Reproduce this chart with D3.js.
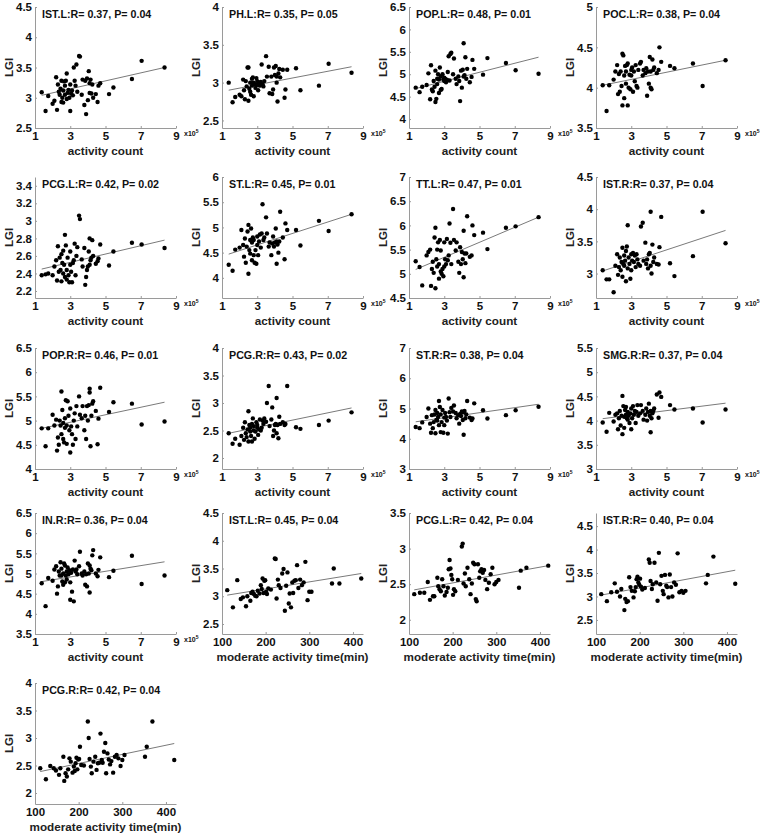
<!DOCTYPE html>
<html>
<head>
<meta charset="utf-8">
<script src="https://cdn.jsdelivr.net/npm/d3@7"></script>
<style>
    body { margin: 0; background: #fff; }
    text { font-family: "Liberation Sans", Arial, sans-serif; font-weight: bold; }
</style>
</head>
<body>
<svg id="chart" width="767" height="837"></svg>
<script>
// shared x values (same subjects in every panel)
const activityCount = [1.38, 1.6, 1.75, 2.0, 2.1, 2.2, 2.25, 2.3, 2.35, 2.4,
    2.45, 2.5, 2.5, 2.55, 2.6, 2.6, 2.65, 2.7, 2.7, 2.75,
    2.8, 2.8, 2.85, 2.9, 2.95, 3.0, 3.0, 3.05, 3.1, 3.15,
    3.2, 3.25, 3.3, 3.35, 3.4, 3.5, 3.55, 3.65, 3.7, 3.8,
    3.85, 3.9, 3.95, 4.0, 4.05, 4.1, 4.1, 4.15, 4.2, 4.25,
    4.3, 4.45, 4.55, 4.6, 4.7, 5.2, 5.45, 6.5, 7.05, 8.35];

const moderateTime = [112, 125, 135, 143, 148, 155, 158, 165,
    167, 170, 173, 176, 179, 182, 186, 189,
    191, 193, 195, 197, 199, 201, 203, 206,
    212, 221, 223, 225, 228, 230, 234, 238,
    241, 244, 247, 250, 253, 255, 258, 261,
    263, 266, 269, 272, 275, 279, 283, 287,
    291, 296, 300, 305, 352, 356, 369, 419];

const activityTicks = [1, 3, 5, 7, 9];
const timeTicks = [100, 200, 300, 400];

// LGI values, one array per panel
const istL_act = [3.09, 2.78, 3.03, 2.9, 2.95, 3.34, 2.8, 3.22, 3.1, 3.05,
    3.15, 2.93, 3.28, 3.0, 3.12, 2.92, 3.27, 3.05, 3.2, 3.28,
    2.98, 3.4, 3.08, 3.13, 3.0, 3.22, 2.78, 3.07, 3.12, 3.04,
    3.5, 3.28, 3.2, 3.55, 3.1, 3.69, 3.68, 3.05, 3.3, 2.88,
    3.28, 2.73, 3.32, 2.96, 3.44, 3.24, 3.08, 3.3, 3.07, 3.22,
    3.0, 3.06, 2.93, 3.2, 3.24, 3.06, 3.17, 3.31, 3.61, 3.5];
const phL_act = [3.0, 2.74, 2.81, 2.84, 2.82, 3.04, 2.9, 2.78, 3.02, 2.95,
    3.2, 2.76, 3.2, 2.92, 3.0, 2.88, 2.84, 3.05, 2.96, 3.07,
    2.82, 3.0, 2.98, 2.93, 3.06, 2.97, 3.02, 2.9, 3.0, 2.96,
    3.01, 3.24, 2.98, 2.95, 3.02, 3.35, 3.08, 3.21, 2.86, 3.08,
    2.85, 2.91, 3.2, 3.1, 3.22, 3.08, 3.0, 2.75, 3.12, 3.18,
    3.07, 3.17, 2.8, 2.91, 3.17, 3.19, 2.9, 2.96, 3.25, 3.13];
const popL_act = [4.7, 4.6, 4.72, 4.76, 5.02, 4.44, 5.2, 4.66, 4.62, 4.85,
    4.72, 4.38, 5.08, 4.45, 4.9, 4.78, 5.0, 4.58, 4.88, 5.15,
    4.65, 4.95, 4.67, 5.0, 4.88, 4.92, 4.85, 4.9, 4.82, 4.88,
    5.05, 5.4, 4.86, 5.45, 5.48, 5.0, 5.35, 4.9, 4.78, 4.95,
    4.85, 4.4, 5.08, 4.7, 5.1, 5.69, 4.95, 4.98, 5.38, 4.9,
    5.12, 4.82, 4.94, 5.32, 5.12, 4.99, 5.36, 5.25, 5.09, 5.01];
const pocL_act = [4.03, 3.71, 4.03, 4.1, 4.2, 4.28, 3.92, 4.17, 3.95, 4.2,
    4.02, 3.78, 4.42, 4.4, 4.15, 3.87, 4.27, 4.05, 4.2, 4.28,
    3.78, 4.3, 4.0, 4.16, 3.98, 4.22, 4.15, 4.25, 3.95, 4.2,
    4.08, 4.28, 4.02, 4.0, 4.22, 4.3, 4.32, 4.15, 4.22, 4.18,
    4.24, 3.9, 4.2, 4.05, 4.38, 4.2, 4.0, 3.98, 4.35, 4.22,
    4.25, 4.18, 4.22, 4.5, 4.32, 4.27, 4.24, 4.3, 4.02, 4.34];
const pcgL_act = [2.38, 2.39, 2.4, 2.38, 2.48, 2.55, 2.32, 2.71, 2.42, 2.58,
    2.44, 2.31, 2.62, 2.52, 2.4, 2.66, 2.5, 2.36, 2.84, 2.72,
    2.44, 2.33, 2.58, 2.38, 2.3, 2.5, 2.65, 2.42, 2.3, 2.52,
    2.55, 2.74, 2.38, 2.6, 2.7, 3.06, 3.02, 2.56, 2.48, 2.69,
    2.27, 2.36, 2.44, 2.48, 2.65, 2.8, 2.5, 2.55, 2.58, 2.78,
    2.6, 2.51, 2.54, 2.57, 2.73, 2.49, 2.65, 2.75, 2.73, 2.69];
const stL_act = [4.26, 4.14, 4.56, 4.6, 4.95, 4.65, 4.42, 4.78, 4.3, 4.62,
    4.92, 4.08, 5.05, 4.55, 4.75, 4.48, 4.98, 4.35, 4.7, 4.8,
    4.45, 4.75, 4.3, 4.55, 4.28, 4.65, 4.82, 4.45, 4.72, 4.86,
    4.6, 4.88, 5.46, 4.75, 4.8, 5.2, 4.88, 4.62, 4.7, 4.45,
    4.68, 4.82, 4.62, 4.7, 4.98, 4.28, 4.72, 4.66, 4.5, 4.72,
    5.31, 4.8, 4.37, 5.08, 4.95, 4.95, 4.64, 5.13, 4.93, 5.26];
const ttL_act = [5.26, 5.14, 4.76, 5.38, 5.45, 5.5, 4.75, 5.1, 5.25, 5.02,
    5.75, 4.7, 5.95, 5.3, 5.15, 5.5, 5.65, 4.9, 5.2, 5.7,
    5.05, 5.48, 5.0, 5.1, 4.95, 5.65, 5.15, 5.3, 5.2, 5.72,
    5.28, 5.38, 6.04, 5.64, 5.2, 6.34, 5.7, 5.48, 5.65, 5.25,
    5.02, 5.55, 5.2, 5.45, 5.3, 5.89, 4.93, 5.42, 5.22, 5.42,
    6.19, 5.35, 5.38, 6.0, 5.8, 5.85, 5.51, 5.95, 5.98, 6.17];
const istR_act = [3.05, 2.91, 2.91, 2.71, 3.12, 3.3, 2.98, 3.1, 3.25, 3.05,
    3.18, 2.95, 3.4, 3.15, 3.28, 3.12, 3.2, 2.88, 3.35, 3.42,
    3.08, 3.75, 3.25, 3.15, 2.92, 3.3, 3.05, 3.2, 3.32, 3.18,
    3.28, 3.1, 3.3, 3.22, 3.15, 3.12, 3.73, 3.79, 3.2, 3.48,
    3.15, 3.22, 3.08, 3.3, 3.32, 3.96, 3.12, 3.0, 3.45, 3.18,
    3.25, 3.15, 3.14, 3.41, 3.88, 3.16, 2.96, 3.27, 3.96, 3.47];
const popR_act = [4.84, 4.47, 4.84, 5.12, 4.9, 5.02, 4.38, 4.65, 4.5, 5.0,
    4.9, 5.6, 4.72, 5.22, 4.62, 4.95, 4.55, 5.05, 4.85, 5.42,
    4.9, 4.52, 5.4, 5.1, 4.8, 4.34, 5.25, 4.88, 4.72, 4.5,
    5.0, 5.15, 4.62, 5.3, 4.88, 5.5, 5.12, 5.05, 5.3, 4.8,
    5.1, 4.62, 5.3, 5.0, 5.32, 5.66, 5.58, 4.47, 5.1, 5.35,
    5.4, 5.2, 4.51, 5.04, 5.68, 5.18, 5.38, 5.35, 4.92, 4.98];
const pcgR_act = [2.45, 2.26, 2.35, 2.24, 2.4, 2.55, 2.33, 2.65, 2.45, 2.38,
    2.52, 2.3, 2.85, 2.6, 2.48, 2.55, 2.4, 2.3, 2.62, 2.72,
    2.5, 2.58, 2.35, 2.48, 2.65, 2.55, 2.6, 2.42, 2.52, 2.7,
    2.5, 2.55, 2.68, 2.62, 2.72, 2.66, 3.0, 3.31, 2.58, 2.7,
    2.92, 2.4, 2.5, 2.6, 2.62, 3.09, 2.45, 2.6, 2.36, 2.75,
    2.62, 2.65, 2.6, 2.62, 3.31, 2.56, 2.53, 2.6, 2.68, 2.83];
const stR_act = [4.39, 4.35, 4.54, 4.72, 5.0, 4.5, 4.2, 4.78, 4.35, 4.55,
    4.8, 4.18, 4.95, 4.62, 4.85, 4.6, 4.72, 5.25, 4.45, 5.05,
    4.22, 4.8, 4.55, 4.95, 4.2, 4.7, 4.45, 4.85, 4.72, 4.6,
    4.17, 5.33, 4.88, 4.72, 5.02, 4.9, 5.1, 4.85, 4.68, 4.78,
    4.5, 4.82, 4.75, 4.9, 4.62, 4.13, 4.88, 4.92, 4.68, 4.8,
    5.25, 4.7, 4.62, 4.67, 5.17, 4.94, 4.67, 4.78, 4.94, 5.06];
const smgR_act = [3.96, 3.77, 4.16, 3.98, 4.12, 4.15, 3.82, 4.05, 4.2, 3.9,
    4.1, 3.72, 4.51, 4.3, 4.08, 3.85, 4.22, 4.12, 4.28, 4.05,
    4.18, 4.02, 4.1, 3.95, 4.15, 3.82, 4.25, 4.05, 4.3, 4.12,
    4.2, 3.95, 4.18, 4.32, 4.1, 4.15, 4.32, 4.2, 4.02, 4.12,
    4.25, 4.0, 4.18, 4.35, 4.1, 3.76, 4.2, 4.05, 4.15, 4.2,
    4.25, 4.54, 4.06, 4.58, 4.49, 4.32, 4.23, 4.25, 3.96, 4.23];
const inR_act = [4.76, 4.19, 4.89, 4.82, 5.1, 5.18, 4.5, 4.68, 5.05, 4.95,
    5.28, 4.95, 5.12, 4.8, 5.0, 4.72, 5.25, 4.78, 5.2, 4.95,
    5.05, 4.85, 5.15, 4.98, 5.08, 4.35, 4.78, 5.02, 4.55, 5.1,
    4.31, 5.32, 5.05, 5.1, 4.98, 5.18, 5.54, 5.0, 4.95, 5.05,
    4.72, 4.98, 4.68, 5.25, 5.0, 4.53, 5.2, 5.12, 5.08, 5.45,
    5.58, 5.0, 4.93, 5.09, 5.4, 4.91, 5.07, 5.44, 4.74, 4.95];
const istL_time = [3.11, 2.8, 3.29, 2.95, 2.98, 2.82, 3.0, 2.92,
    3.06, 3.08, 3.04, 3.01, 3.0, 3.1, 3.05, 3.2,
    3.13, 3.32, 3.06, 3.28, 3.29, 3.08, 3.04, 3.14,
    3.12, 3.68, 3.67, 2.96, 3.3, 3.2, 3.15, 3.41,
    3.49, 2.74, 3.19, 3.43, 2.87, 3.05, 2.8, 3.25,
    3.06, 3.28, 3.29, 3.56, 3.15, 3.3, 3.2, 3.25,
    3.62, 2.93, 3.08, 3.08, 3.23, 3.5, 3.23, 3.32];
const pcgL_time = [2.36, 2.38, 2.38, 2.53, 2.28, 2.33, 2.33, 2.59,
    2.47, 2.43, 2.4, 2.57, 2.47, 2.34, 2.39, 2.45,
    2.71, 2.84, 2.72, 2.63, 2.57, 2.35, 2.43, 2.4,
    2.56, 3.03, 3.07, 2.51, 2.65, 2.47, 2.73, 2.57,
    2.36, 2.51, 2.8, 2.78, 2.29, 2.26, 2.78, 2.59,
    2.68, 2.71, 2.66, 2.7, 2.56, 2.43, 2.52, 2.64,
    2.73, 2.5, 2.53, 2.56, 2.45, 2.69, 2.73, 2.76];
const istR_time = [3.05, 2.9, 3.09, 3.28, 3.1, 3.0, 3.16, 2.71,
    2.95, 2.88, 2.9, 3.41, 3.2, 3.12, 2.98, 3.11,
    3.2, 3.37, 3.42, 3.3, 3.25, 3.38, 3.21, 3.15,
    3.18, 3.79, 3.72, 3.33, 3.16, 3.26, 3.72, 3.3,
    2.91, 3.93, 3.26, 3.44, 3.12, 3.05, 3.46, 3.23,
    3.2, 2.98, 3.47, 3.2, 3.0, 3.3, 3.25, 3.92,
    3.09, 3.12, 3.08, 3.12, 3.28, 3.46, 3.85, 3.27];
const pcgR_time = [2.45, 2.25, 2.49, 2.45, 2.41, 2.33, 2.45, 2.66,
    2.22, 2.36, 2.3, 2.43, 2.63, 2.57, 2.37, 2.48,
    2.4, 2.54, 2.64, 2.43, 2.61, 2.62, 2.84, 2.51,
    2.5, 3.3, 3.0, 2.62, 2.48, 2.36, 2.57, 2.66,
    2.42, 2.54, 2.55, 3.08, 2.6, 2.55, 2.75, 2.91,
    2.36, 2.72, 2.61, 2.52, 2.58, 2.37, 2.66, 2.69,
    2.63, 2.49, 2.6, 2.69, 2.66, 2.84, 3.3, 2.6];

const panelTitles = ["IST.L:R= 0.37, P= 0.04", "PH.L:R= 0.35, P= 0.05", "POP.L:R= 0.48, P= 0.01", "POC.L:R= 0.38, P= 0.04",
    "PCG.L:R= 0.42, P= 0.02", "ST.L:R= 0.45, P= 0.01", "TT.L:R= 0.47, P= 0.01", "IST.R:R= 0.37, P= 0.04",
    "POP.R:R= 0.46, P= 0.01", "PCG.R:R= 0.43, P= 0.02", "ST.R:R= 0.38, P= 0.04", "SMG.R:R= 0.37, P= 0.04",
    "IN.R:R= 0.36, P= 0.04", "IST.L:R= 0.45, P= 0.04", "PCG.L:R= 0.42, P= 0.04", "IST.R:R= 0.40, P= 0.04",
    "PCG.R:R= 0.42, P= 0.04"];
const panelValues = [istL_act, phL_act, popL_act, pocL_act, pcgL_act, stL_act, ttL_act, istR_act,
    popR_act, pcgR_act, stR_act, smgR_act, inR_act, istL_time, pcgL_time, istR_time, pcgR_time];
const panelIsTime = [false, false, false, false, false, false, false, false,
    false, false, false, false, false, true, true, true, true];
const panelYDomains = [[2.5, 4.5], [2.4, 4], [3.8, 6.5], [3.5, 5], [2.12, 3.5], [3.6, 6], [4.5, 7], [2.62, 4.5],
    [4, 6.5], [1.8, 4], [3, 7], [3, 5.5], [3.5, 6.5], [2.32, 4.5], [1.8, 3.5], [2.2, 4.78], [1.8, 4]];
const panelYTicks = [[2.5, 3, 3.5, 4, 4.5], [2.5, 3, 3.5, 4], [4, 4.5, 5, 5.5, 6, 6.5], [3.5, 4, 4.5, 5],
    [2.2, 2.4, 2.6, 2.8, 3, 3.2, 3.4], [4, 4.5, 5, 5.5, 6], [4.5, 5, 5.5, 6, 6.5, 7], [3, 3.5, 4, 4.5],
    [4, 4.5, 5, 5.5, 6, 6.5], [2, 2.5, 3, 3.5, 4], [3, 4, 5, 6, 7], [3, 3.5, 4, 4.5, 5, 5.5],
    [3.5, 4, 4.5, 5, 5.5, 6, 6.5], [2.5, 3, 3.5, 4, 4.5], [2, 2.5, 3, 3.5], [2.5, 3, 3.5, 4, 4.5], [2, 2.5, 3, 3.5, 4]];
// fitted line: LGI at the smallest and at the largest x
const panelFits = [[3.04, 3.5], [2.9, 3.21], [4.68, 5.38], [4.03, 4.34], [2.45, 2.78], [4.47, 5.26], [5.09, 6.17], [3.04, 3.67],
    [4.84, 5.38], [2.45, 2.91], [4.56, 5.14], [4.04, 4.36], [4.8, 5.29], [3.02, 3.41], [2.42, 2.76], [3.03, 3.56], [2.39, 2.9]];

let svg = d3.select("#chart");
let colLeft = [35, 222, 409, 596];
let rowTop = [7, 177, 348, 513, 683];
let width = 141, height = 121;
let fmt = v => String(+v.toFixed(2));

panelTitles.forEach((title, idx) => {
    let g = svg.append("g")
        .attr("transform", `translate(${colLeft[idx % 4]},${rowTop[Math.floor(idx / 4)]})`);

    let isTime = panelIsTime[idx];
    let xs = isTime ? moderateTime : activityCount;
    let ys = panelValues[idx];
    let data = xs.map((x, i) => ({x: x, y: ys[i]})).filter(d => d.y !== undefined);

    let x_scale = d3.scaleLinear()
        .domain(isTime ? [100, 423] : [1, 9])
        .range([0, width]);
    let y_scale = d3.scaleLinear()
        .domain(panelYDomains[idx])
        .range([height, 0]);

    // x axis
    let xAxis = g.append("g")
        .attr("transform", "translate(0," + height + ")")
        .call(d3.axisBottom(x_scale)
            .tickValues(isTime ? timeTicks : activityTicks)
            .tickSizeInner(-2).tickSizeOuter(0).tickPadding(4)
            .tickFormat(fmt));

    // y axis
    let yAxis = g.append("g")
        .call(d3.axisLeft(y_scale)
            .tickValues(panelYTicks[idx])
            .tickSizeInner(-2).tickSizeOuter(0).tickPadding(3)
            .tickFormat(fmt));

    [xAxis, yAxis].forEach(a => {
        a.attr("font-family", null).attr("font-size", null);
        a.select(".domain").attr("stroke", "#9a9a9a");
        a.selectAll(".tick line").attr("stroke", "#9a9a9a");
        a.selectAll(".tick text").attr("fill", "#111").attr("font-size", "11.5px");
    });

    // x label
    g.append("text")
        .attr("x", width / 2)
        .attr("y", height + 27)
        .attr("font-size", "11.7px")
        .attr("fill", "#222")
        .attr("text-anchor", "middle")
        .text(isTime ? "moderate activity time(min)" : "activity count");

    // x10^5 multiplier
    if (!isTime) {
        let m = g.append("text")
            .attr("x", width + 8)
            .attr("y", height + 8)
            .attr("font-size", "7px")
            .attr("font-weight", "normal")
            .attr("fill", "#111");
        m.append("tspan").text("x10");
        m.append("tspan").attr("dy", -3).attr("font-size", "5px").text("5");
    }

    // y label
    g.append("text")
        .attr("transform", `translate(-22,${height / 2}) rotate(-90)`)
        .attr("font-size", "11.5px")
        .attr("fill", "#222")
        .attr("text-anchor", "middle")
        .text("LGI");

    // fit line
    let xExt = d3.extent(data, d => d.x);
    g.append("line")
        .attr("x1", x_scale(xExt[0]))
        .attr("y1", y_scale(panelFits[idx][0]))
        .attr("x2", x_scale(xExt[1]))
        .attr("y2", y_scale(panelFits[idx][1]))
        .attr("stroke", "#7a7a7a")
        .attr("stroke-width", 1);

    // dots
    g.selectAll("circle")
        .data(data)
        .enter()
        .append("circle")
        .attr("cx", d => x_scale(d.x))
        .attr("cy", d => y_scale(d.y))
        .attr("r", 2.2)
        .attr("fill", "#000");

    // title
    g.append("text")
        .attr("x", 7)
        .attr("y", 11)
        .attr("font-size", "10.7px")
        .attr("fill", "#111")
        .text(title);
});
</script>
</body>
</html>
